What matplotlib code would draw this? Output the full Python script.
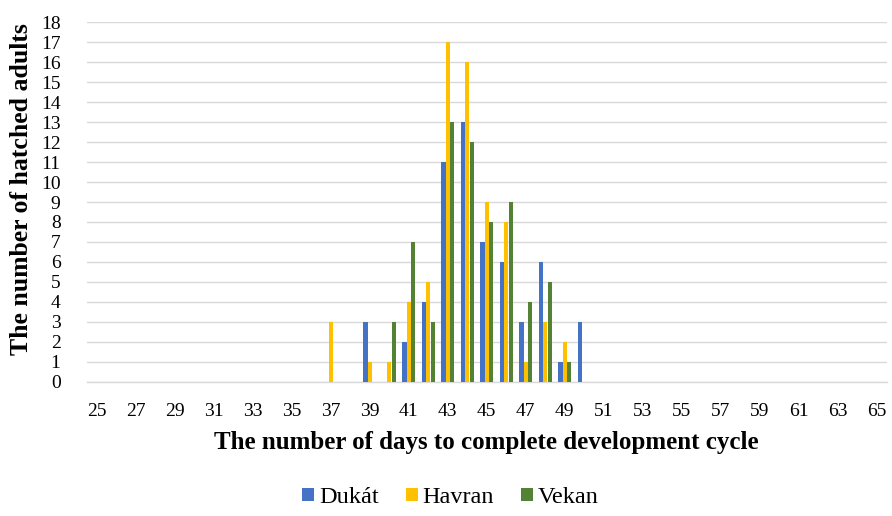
import matplotlib
matplotlib.use("Agg")
import matplotlib.pyplot as plt
import numpy as np

days = list(range(25, 66))
dukat = {39: 3, 41: 2, 42: 4, 43: 11, 44: 13, 45: 7, 46: 6, 47: 3, 48: 6, 49: 1, 50: 3}
havran = {37: 3, 39: 1, 40: 1, 41: 4, 42: 5, 43: 17, 44: 16, 45: 9, 46: 8, 47: 1, 48: 3, 49: 2}
vekan = {40: 3, 41: 7, 42: 3, 43: 13, 44: 12, 45: 8, 46: 9, 47: 4, 48: 5, 49: 1}
series_names = ["Dukát", "Havran", "Vekan"]
colors = ["#4472C4", "#FFC000", "#548235"]
y_ticks = list(range(0, 19))

plt.rcParams['font.family'] = ['Liberation Serif', 'DejaVu Serif']

fig = plt.figure(figsize=(8.92, 5.16), dpi=100)
ax = fig.add_axes([0.0975, 0.26, 0.8965, 0.697])

x = np.arange(len(days))
w = 0.22
for i, (name, data, c) in enumerate(zip(series_names, [dukat, havran, vekan], colors)):
    vals = [data.get(d, 0) for d in days]
    ax.bar(x + (i - 1) * w, vals, width=w * 0.95, color=c, label=name, zorder=3)

ax.set_xlim(-0.5, len(days) - 0.5)
ax.set_ylim(0, 18)
ax.set_yticks(y_ticks)
ax.set_yticklabels([str(v) for v in y_ticks], fontsize=14)
ax.set_xticks(x[::2])
ax.set_xticklabels([str(d) for d in days[::2]], fontsize=14)
ax.tick_params(axis='both', length=0)
ax.tick_params(axis='x', pad=15)
ax.tick_params(axis='y', pad=19)
ax.grid(axis='y', color='#d9d9d9', linewidth=1, zorder=0)
for s in ['top', 'right', 'left']:
    ax.spines[s].set_visible(False)
ax.spines['bottom'].set_color('#d9d9d9')
ax.spines['bottom'].set_linewidth(1)

ax.set_xlabel("The number of days to complete development cycle", fontsize=18, fontweight='bold', labelpad=8)
ax.set_ylabel("The number of hatched adults", fontsize=18.5, fontweight='bold')
ax.yaxis.set_label_coords(-0.068, 0.535)

fig.legend(loc='lower center', bbox_to_anchor=(0.505, -0.027), ncol=3, frameon=False, fontsize=17.5,
           handlelength=0.5, handleheight=0.5, handletextpad=0.2, columnspacing=1.1)

fig.savefig("out.png", dpi=100)
